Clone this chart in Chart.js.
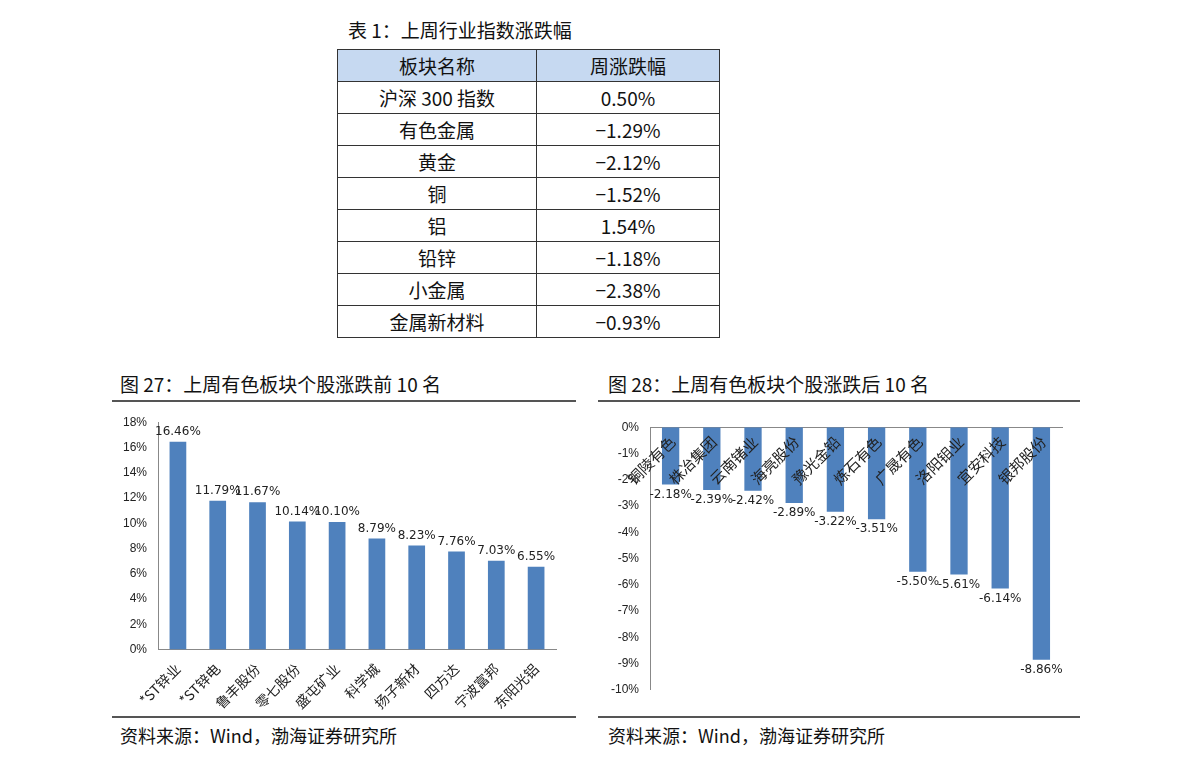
<!DOCTYPE html>
<html><head><meta charset="utf-8">
<script src="https://cdn.jsdelivr.net/npm/chart.js@4"></script>
<style>
body{margin:0;width:1191px;height:765px;background:#fff;font-family:"Noto Sans CJK SC","DejaVu Sans",sans-serif;position:relative;overflow:hidden}
.abs{position:absolute}
table{border-collapse:collapse;font-size:19px;color:#111}
td{border:1px solid #333;text-align:center;height:31px;padding:0}
.ttl{font-size:19px;color:#111}
.line{position:absolute;height:1px;background:#555}
</style></head><body>
<div class="abs ttl" style="left:348px;top:16px">表 1：上周行业指数涨跌幅</div>
<table class="abs" style="left:337px;top:49px;width:383px">
<tbody id="tb"></tbody></table>
<div class="abs ttl" style="left:120px;top:370px">图 27：上周有色板块个股涨跌前 10 名</div>
<div class="abs ttl" style="left:608px;top:370px">图 28：上周有色板块个股涨跌后 10 名</div>
<div class="line" style="left:112px;top:400px;width:464px;height:2px"></div>
<div class="line" style="left:598px;top:400px;width:482px;height:2px"></div>
<div class="line" style="left:112px;top:716px;width:464px;height:2px"></div>
<div class="line" style="left:598px;top:716px;width:482px;height:2px"></div>
<div class="abs ttl" style="left:120px;top:722px;font-size:18px">资料来源：Wind，渤海证券研究所</div>
<div class="abs ttl" style="left:608px;top:722px;font-size:18px">资料来源：Wind，渤海证券研究所</div>
<div class="abs" style="left:112px;top:412px;width:464px;height:303px"><canvas id="c1"></canvas></div>
<div class="abs" style="left:598px;top:417px;width:482px;height:283px"><canvas id="c2"></canvas></div>
<script>
const tableNames=["沪深 300 指数","有色金属","黄金","铜","铝","铅锌","小金属","金属新材料"];
const tableValues=["0.50%","-1.29%","-2.12%","-1.52%","1.54%","-1.18%","-2.38%","-0.93%"];
const topNames=["*ST锌业","*ST锌电","鲁丰股份","零七股份","盛屯矿业","科学城","扬子新材","四方达","宁波富邦","东阳光铝"];
const topValues=[16.46,11.79,11.67,10.14,10.10,8.79,8.23,7.76,7.03,6.55];
const botNames=["铜陵有色","株冶集团","云南锗业","海亮股份","豫光金铅","炼石有色","广晟有色","洛阳钼业","宜安科技","银邦股份"];
const botValues=[-2.18,-2.39,-2.42,-2.89,-3.22,-3.51,-5.50,-5.61,-6.14,-8.86];
let h='<tr style="background:#c6d9f1"><td style="width:198px">板块名称</td><td>周涨跌幅</td></tr>';
tableNames.forEach((n,i)=>{h+=`<tr><td>${n}</td><td>${tableValues[i].replace('-','−')}</td></tr>`});
document.getElementById('tb').innerHTML=h;
const lbl={id:'lbl',afterDatasetsDraw(c){const ctx=c.ctx,m=c.getDatasetMeta(0);ctx.save();ctx.font='12px "DejaVu Sans"';ctx.fillStyle='#222';ctx.textAlign='center';
m.data.forEach((b,i)=>{const v=c.data.datasets[0].data[i];const t=v.toFixed(2)+'%';if(v>=0){ctx.textBaseline='bottom';ctx.fillText(t,b.x,b.y-4)}else{ctx.textBaseline='top';ctx.fillText(t,b.x,b.y+4)}});ctx.restore();}};
const topLbl={id:'topLbl',afterDatasetsDraw(c){const ctx=c.ctx,m=c.getDatasetMeta(0),top=c.chartArea.top;ctx.save();ctx.font='15px "Noto Sans CJK SC"';ctx.fillStyle='#222';ctx.textAlign='right';ctx.textBaseline='middle';
m.data.forEach((b,i)=>{ctx.save();ctx.translate(b.x+2,top+12);ctx.rotate(-Math.PI/4);ctx.fillText(c.data.labels[i],0,0);ctx.restore();});ctx.restore();}};
const common={responsive:true,maintainAspectRatio:false,animation:false,plugins:{legend:{display:false},tooltip:{enabled:false}}};
new Chart(c1,{type:'bar',data:{labels:topNames,datasets:[{data:topValues,backgroundColor:'#4f81bd',categoryPercentage:1,barPercentage:0.42}]},
options:{...common,layout:{padding:{top:2,right:20,left:8}},scales:{
x:{grid:{display:false},border:{color:'#888'},ticks:{maxRotation:45,minRotation:45,color:'#222',font:{size:14,family:'"Noto Sans CJK SC"'}}},
y:{min:0,max:18,ticks:{stepSize:2,color:'#222',font:{size:12},callback:v=>v+'%'},grid:{display:false},border:{color:'#888'}}}},plugins:[lbl]});
new Chart(c2,{type:'bar',data:{labels:botNames,datasets:[{data:botValues,backgroundColor:'#4f81bd',categoryPercentage:1,barPercentage:0.42}]},
options:{...common,layout:{padding:{right:18,left:10,top:2,bottom:5}},scales:{
x:{position:'top',grid:{display:false},border:{color:'#888'},ticks:{display:false}},
y:{min:-10,max:0,ticks:{stepSize:1,color:'#222',font:{size:12},callback:v=>v+'%'},grid:{display:false},border:{color:'#888'}}}},plugins:[lbl,topLbl]});
</script></body></html>
